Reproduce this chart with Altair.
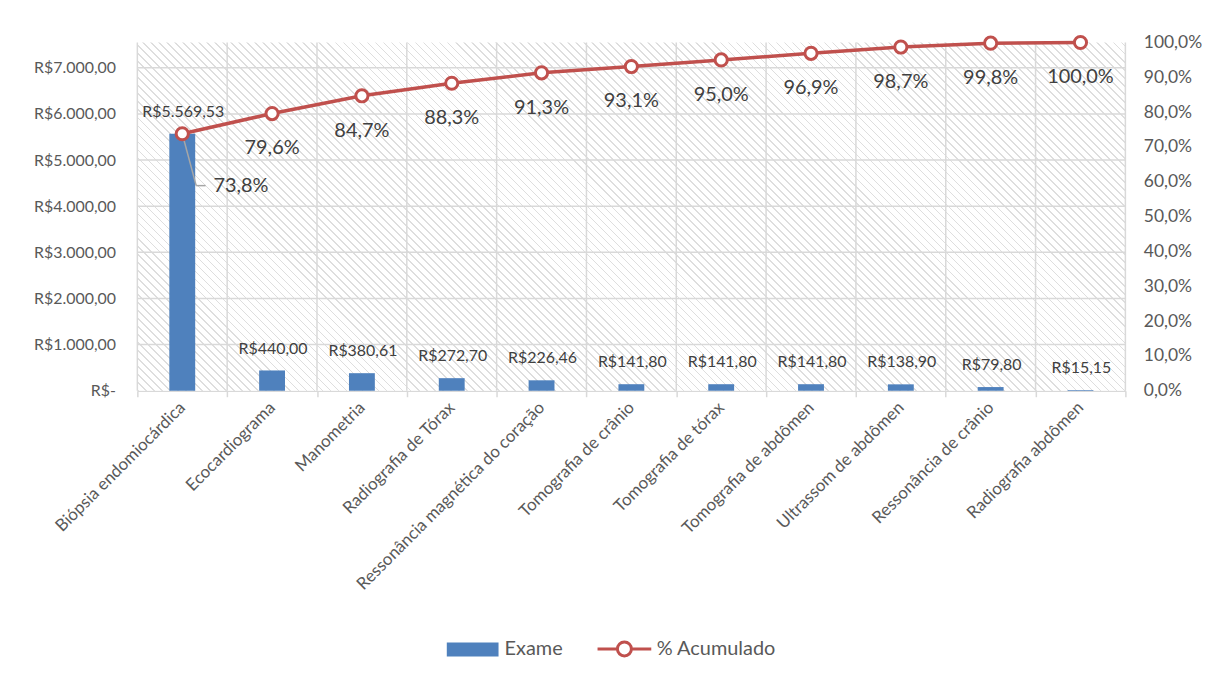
import math
import altair as alt
import pandas as pd

# ---------------- data ----------------
categorias = [
    "Biópsia endomiocárdica",
    "Ecocardiograma",
    "Manometria",
    "Radiografia de Tórax",
    "Ressonância magnética do coração",
    "Tomografia de crânio",
    "Tomografia de tórax",
    "Tomografia de abdômen",
    "Ultrassom de abdômen",
    "Ressonância de crânio",
    "Radiografia abdômen",
]
valores = [5569.53, 440.00, 380.61, 272.70, 226.46, 141.80, 141.80, 141.80, 138.90, 79.80, 15.15]
acumulado = [73.8, 79.6, 84.7, 88.3, 91.3, 93.1, 95.0, 96.9, 98.7, 99.8, 100.0]
ticks_reais = [0, 1000, 2000, 3000, 4000, 5000, 6000, 7000]
ticks_pct = [0, 10, 20, 30, 40, 50, 60, 70, 80, 90, 100]
eixo_max = 7548.55
serie_barra = "Exame"
serie_linha = "% Acumulado"


def fmt_real(v):
    s = f"{v:,.2f}".replace(",", "#").replace(".", ",").replace("#", ".")
    return "R$" + s


df = pd.DataFrame({
    "cat": categorias,
    "valor": valores,
    "acum": acumulado,
    "rot_valor": [fmt_real(v) for v in valores],
    "rot_acum": [f"{p:.1f}%".replace(".", ",") for p in acumulado],
    "s1": serie_barra,
    "s2": serie_linha,
})
grid_df = pd.DataFrame({"v": ticks_reais[1:]})
bg_df = pd.DataFrame({"base": [0], "topo": [eixo_max]})

# ---------------- style ----------------
W, H = 993, 350
FONT = "Lato"
GRID = "#d9d9d9"
TXT = "#595959"
LBL = "#404040"
BLUE = "#4F81BD"
RED = "#C0504D"
LEADER = "#a6a6a6"

# diagonal hatch as a striped gradient
L = (W + H) / math.sqrt(2)
period = 5.7
thick = 1.2
n = int(L / period) + 1
stops = []
for i in range(n):
    a = i * period / L
    b = (i * period + thick) / L
    if b > 1:
        break
    stops += [
        alt.GradientStop(color="#ffffff", offset=a),
        alt.GradientStop(color="#dedede", offset=a),
        alt.GradientStop(color="#dedede", offset=b),
        alt.GradientStop(color="#ffffff", offset=b),
    ]
den = W * W + H * H
hatch = alt.LinearGradient(
    gradient="linear", stops=stops,
    x1=0, y1=1, x2=W * (W + H) / den, y2=1 - H * (W + H) / den,
)

yscale_l = alt.Scale(domain=[0, eixo_max], nice=False, zero=True)
yscale_r = alt.Scale(domain=[0, 100], nice=False)
xscale = alt.Scale(paddingInner=0, paddingOuter=0)

left_labels = (
    "datum.value == 0 ? 'R$-' : 'R$' + replace(replace(replace(format(datum.value, ',.2f'), ',', '#'), '.', ','), '#', '.')"
)
right_labels = "replace(format(datum.value, '.1f'), '.', ',') + '%'"

x_axis = alt.Axis(
    title=None, labelAngle=315, labelAlign="right", labelBaseline="middle",
    labelFont=FONT, labelFontSize=17, labelColor=TXT, labelPadding=8, labelLimit=400,
    tickBand="extent", tickColor=GRID, tickSize=6, tickWidth=1.5,
    domainColor=GRID, domainWidth=1.5, grid=False,
)
yl_axis = alt.Axis(
    title=None, values=ticks_reais, labelExpr=left_labels, labelFont=FONT,
    labelFontSize=16, labelColor=TXT, labelPadding=22, ticks=False, domain=False, grid=False)
yr_axis = alt.Axis(
    title=None, orient="right", values=ticks_pct, labelExpr=right_labels, labelFont=FONT,
    labelFontSize=17.5, labelColor=TXT, labelPadding=18, ticks=False, domain=False, grid=False)


def X(**kw):
    return alt.X("cat:N", sort=categorias, scale=xscale, axis=x_axis, **kw)


def YL(field):
    return alt.Y(field, scale=yscale_l, axis=yl_axis)


def YR(field):
    return alt.Y(field, scale=yscale_r, axis=yr_axis)


bg = alt.Chart(bg_df).mark_rect(fill=hatch).encode(y=YL("base:Q"), y2="topo:Q")
hgrid = alt.Chart(grid_df).mark_rule(color=GRID, strokeWidth=1.5).encode(y=YL("v:Q"))
vgrid = alt.Chart(df).mark_rule(color=GRID, strokeWidth=1.5).encode(
    x=X(bandPosition=0), y=YL("base:Q"), y2="topo:Q"
).transform_calculate(base="0", topo=str(eixo_max))
vgrid_end = alt.Chart(df).mark_rule(color=GRID, strokeWidth=1.5).encode(
    x=X(bandPosition=1), y=YL("base:Q"), y2="topo:Q"
).transform_filter(alt.datum.cat == categorias[-1]).transform_calculate(base="0", topo=str(eixo_max))

bars = alt.Chart(df).mark_bar(size=26).encode(
    x=X(),
    y=YL("valor:Q"),
    color=alt.Color("s1:N", scale=alt.Scale(domain=[serie_barra], range=[BLUE]), legend=alt.Legend(
        title=None, orient="none", legendX=311, legendY=584,
        symbolType="M-1,-0.27H1V0.27H-1Z", symbolSize=2704, symbolStrokeWidth=0,
        labelFont=FONT, labelFontSize=20, labelColor=TXT, labelOffset=6)),
)
bar_lbl = alt.Chart(df).mark_text(
    font=FONT, fontSize=16, color=LBL, dy=-22, dx=1, baseline="middle"
).encode(x=X(), y=YL("valor:Q"), text="rot_valor:N")

left_group = alt.layer(bg, hgrid, vgrid, vgrid_end, bars, bar_lbl)

line = alt.Chart(df).mark_line(strokeWidth=3.5).encode(
    x=X(),
    y=YR("acum:Q"),
    stroke=alt.Stroke("s2:N", scale=alt.Scale(domain=[serie_linha], range=[RED]), legend=alt.Legend(
        title=None, orient="none", legendX=461, legendY=581,
        symbolType="M-1,0H-0.26M0.26,0H1M-0.26,0A0.26,0.26 0 1,1 0.26,0A0.26,0.26 0 1,1 -0.26,0Z",
        symbolSize=2916, symbolStrokeWidth=3, symbolFillColor="white",
        labelFont=FONT, labelFontSize=20, labelColor=TXT, labelOffset=4)),
)

# leader line of the first data label (callout)
first = df[df["cat"] == categorias[0]]
leader1 = alt.Chart(first).mark_rule(color=LEADER, strokeWidth=1.5).encode(
    x=X(bandPosition=0.5), x2=alt.X2("cat", bandPosition=0.655),
    y=YR("acum:Q"), y2="ly:Q",
).transform_calculate(ly="58.9")
leader2 = alt.Chart(first).mark_rule(color=LEADER, strokeWidth=1.5).encode(
    x=X(bandPosition=0.655), x2=alt.X2("cat", bandPosition=0.76),
    y=YR("ly:Q"),
).transform_calculate(ly="58.9")

pts = alt.Chart(df).mark_point(
    shape="circle", filled=False, fill="white", fillOpacity=1, stroke=RED, strokeWidth=3, size=150, opacity=1
).encode(x=X(), y=YR("acum:Q"))
pct_first = alt.Chart(df).mark_text(
    font=FONT, fontSize=20, color=LBL, dx=59, dy=53, baseline="middle"
).encode(x=X(), y=YR("acum:Q"), text="rot_acum:N").transform_filter(
    alt.datum.cat == categorias[0])
pct_lbl = alt.Chart(df).mark_text(
    font=FONT, fontSize=20, color=LBL, dy=35, baseline="middle"
).encode(x=X(), y=YR("acum:Q"), text="rot_acum:N").transform_filter(
    alt.datum.cat != categorias[0])

right_group = alt.layer(line, leader1, leader2, pts, pct_first, pct_lbl)

chart = alt.layer(left_group, right_group).resolve_scale(
    y="independent"
).properties(
    width=W, height=H,
    padding={"left": 25, "top": 20, "right": 0, "bottom": 10},
).configure_view(stroke=None)

chart.save("out.html", embed_options={"renderer": "svg", "actions": False})
